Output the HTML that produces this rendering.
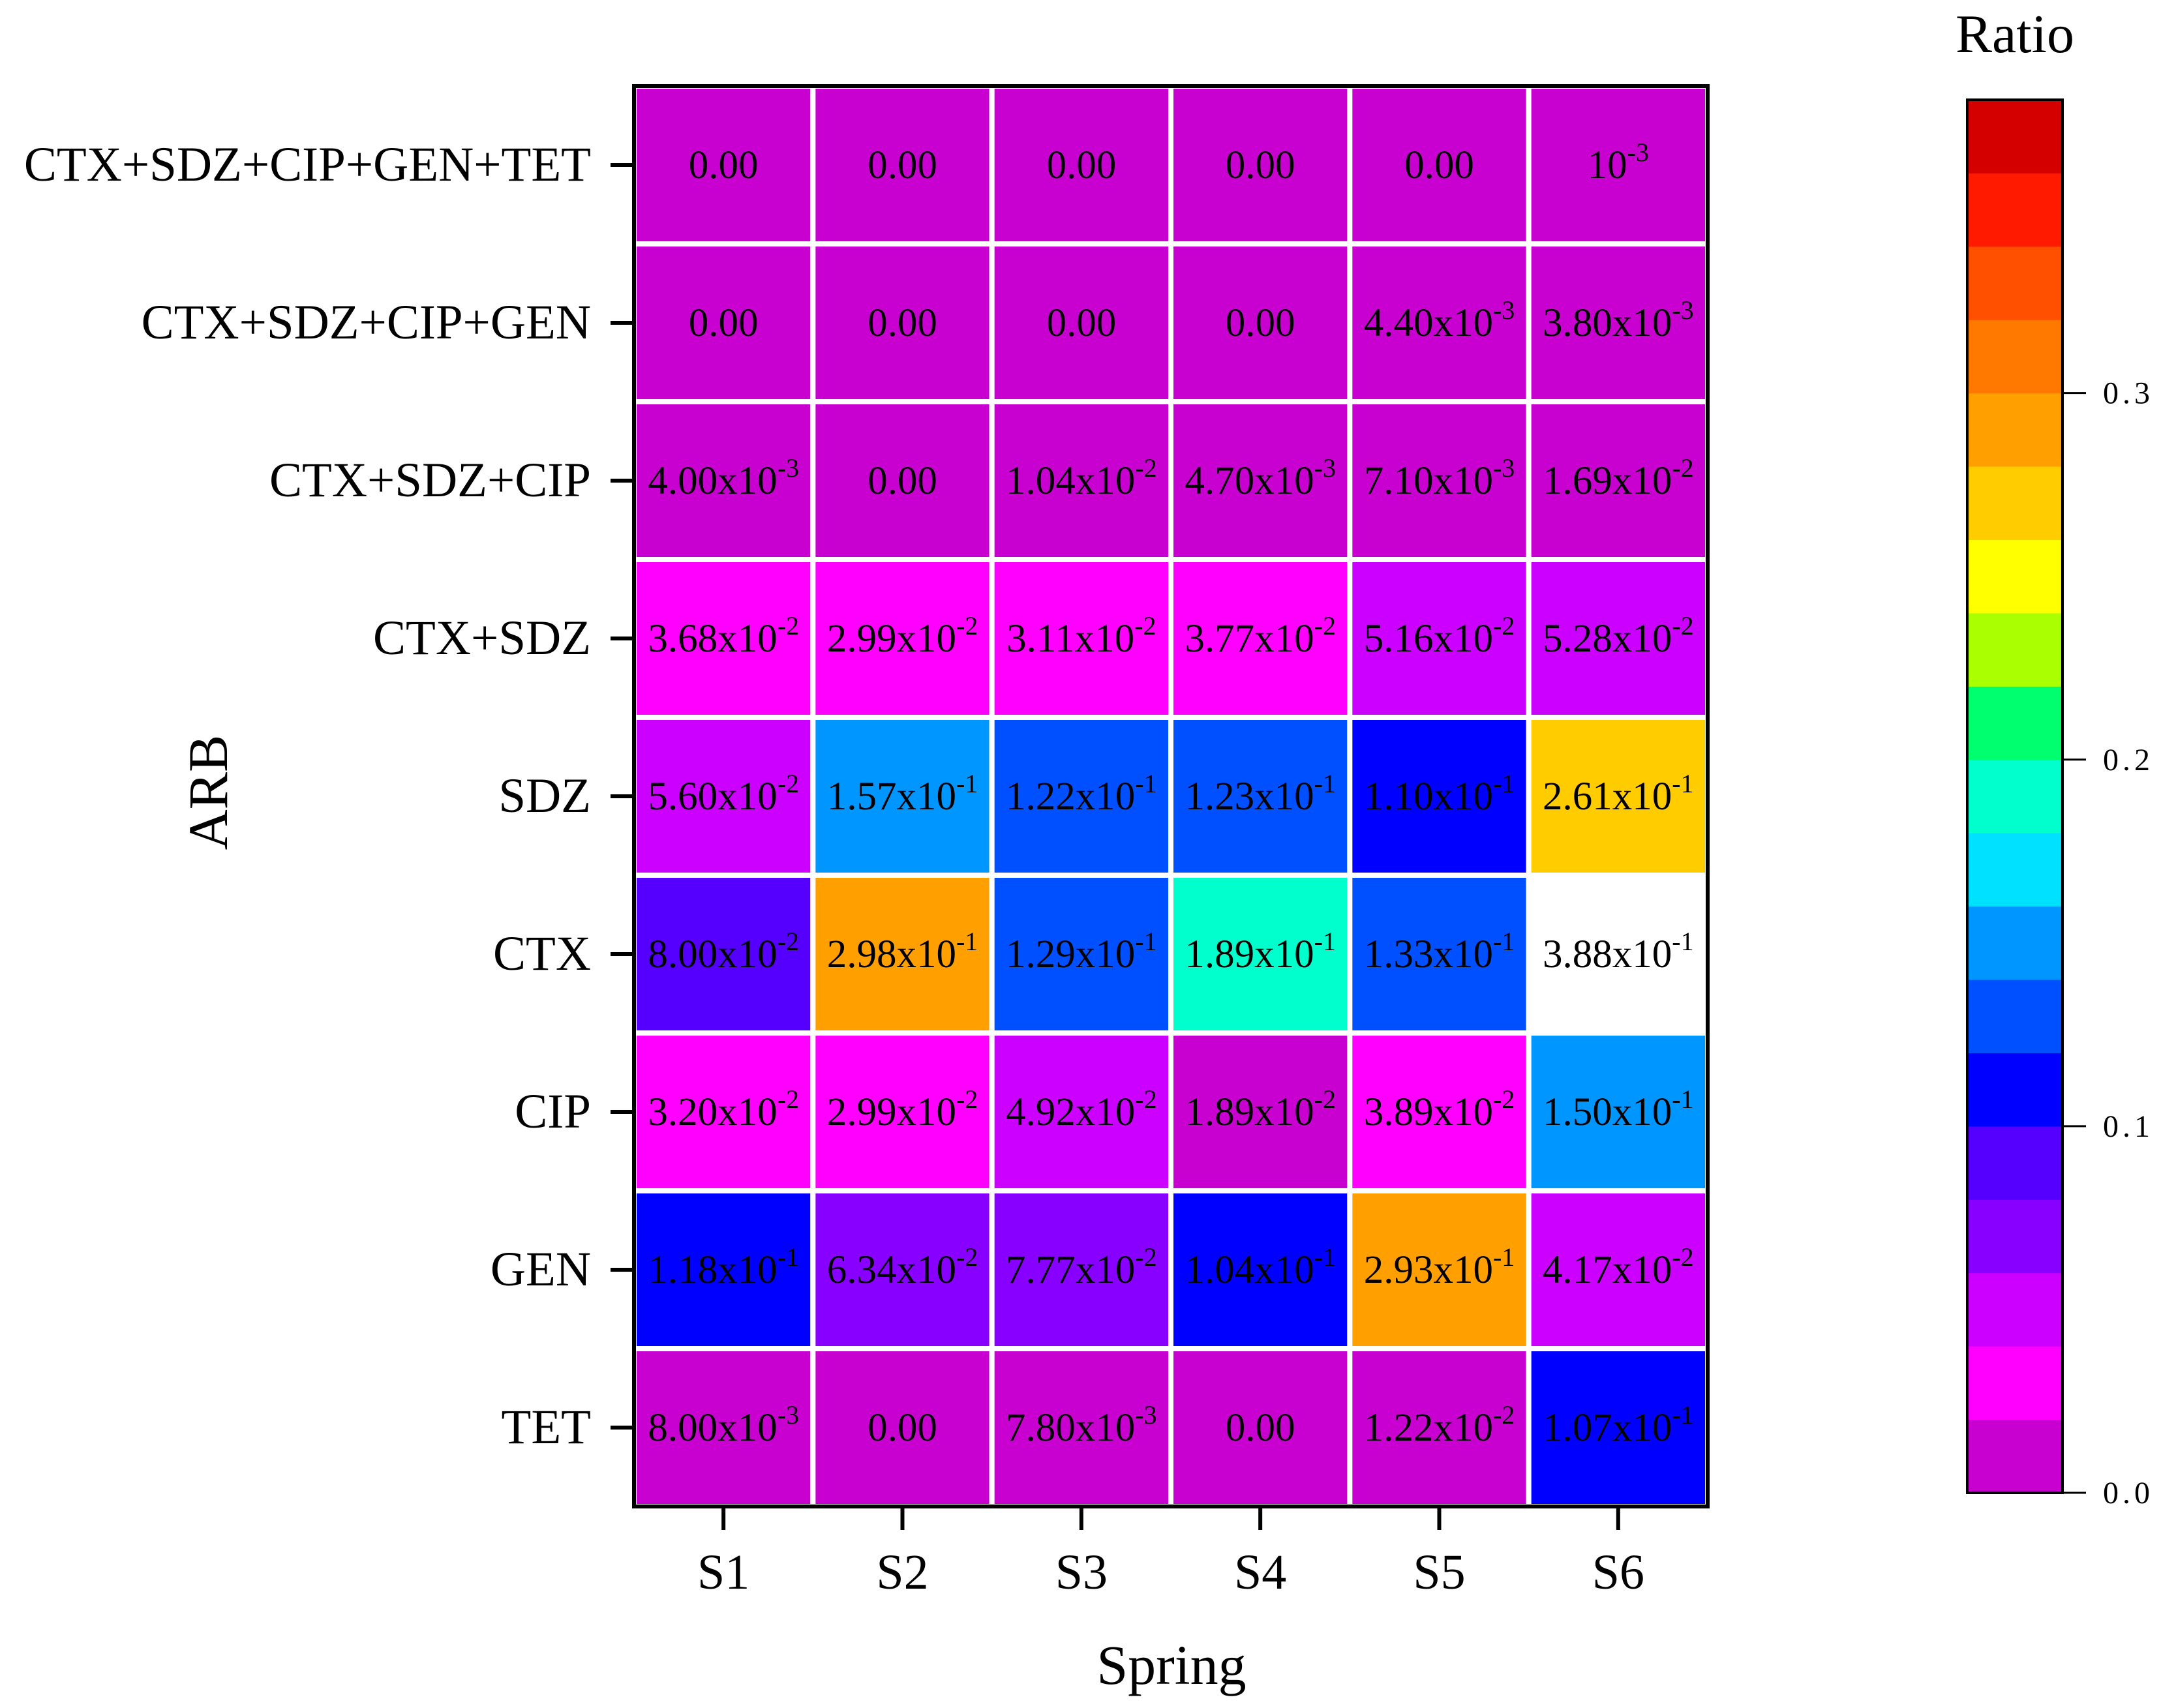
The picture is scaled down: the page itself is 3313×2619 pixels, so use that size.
<!DOCTYPE html>
<html><head><meta charset="utf-8"><style>
html,body{margin:0;padding:0;background:#fff;}
svg{display:block;font-family:"Liberation Serif","DejaVu Serif",serif;}
</style></head><body>
<svg id="chart" width="3313" height="2619" viewBox="0 0 3313 2619" xmlns="http://www.w3.org/2000/svg"></svg>
<script>
const categoriesX = ["S1","S2","S3","S4","S5","S6"];
const categoriesY = ["CTX+SDZ+CIP+GEN+TET","CTX+SDZ+CIP+GEN","CTX+SDZ+CIP","CTX+SDZ","SDZ","CTX","CIP","GEN","TET"];
const rowCombo5 = [0,0,0,0,0,0.001];
const rowCombo4 = [0,0,0,0,0.0044,0.0038];
const rowCombo3 = [0.004,0,0.0104,0.0047,0.0071,0.0169];
const rowCombo2 = [0.0368,0.0299,0.0311,0.0377,0.0516,0.0528];
const rowSDZ = [0.056,0.157,0.122,0.123,0.110,0.261];
const rowCTX = [0.080,0.298,0.129,0.189,0.133,0.388];
const rowCIP = [0.032,0.0299,0.0492,0.0189,0.0389,0.150];
const rowGEN = [0.118,0.0634,0.0777,0.104,0.293,0.0417];
const rowTET = [0.008,0,0.0078,0,0.0122,0.107];
const colorbarTicks = [0.0,0.1,0.2,0.3];
const bandColors = ["#c800d0","#ff00ff","#cc00ff","#8800ff","#5500ff","#0000ff","#0050ff","#0096ff","#00e0ff","#00ffcc","#00ff6e","#aaff00","#ffff00","#ffcc00","#ffa000","#ff7800","#ff5000","#ff1a00","#d40000"];
const bandStep = 0.02;
const cbMax = 0.38;

const rows = [rowCombo5,rowCombo4,rowCombo3,rowCombo2,rowSDZ,rowCTX,rowCIP,rowGEN,rowTET];
const svg = document.getElementById('chart');
const NS = "http://www.w3.org/2000/svg";
function mk(tag, attrs){const e=document.createElementNS(NS,tag);for(const k in attrs)e.setAttribute(k,attrs[k]);svg.appendChild(e);return e;}

const PL=972, PR=2618, PT=132, PB=2310;
const cw=(PR-PL)/categoriesX.length, ch=(PB-PT)/categoriesY.length;
const xPos = i => PL + i*cw;
const yPos = j => PT + j*ch;
function colorFor(v){ if(v>=cbMax) return "#ffffff"; const b=Math.floor(v/bandStep+1e-9); return bandColors[Math.min(b,bandColors.length-1)]; }
function fmt(v){
  if(v===0) return {m:"0.00",e:null};
  const e=Math.floor(Math.log10(v)+1e-9); let m=v/Math.pow(10,e);
  if(v===0.001) return {m:"",e:e};
  return {m:m.toFixed(2)+"x",e:e};
}

rows.forEach((row,j)=>{
  row.forEach((v,i)=>{
    const r=mk('rect',{x:xPos(i),y:yPos(j),width:cw,height:ch,fill:colorFor(v),stroke:'#fff','stroke-width':8});
    
    
    const f=fmt(v);
    const t=mk('text',{x:xPos(i)+cw/2,y:yPos(j)+ch/2+20,'text-anchor':'middle','font-size':61,fill:'#000','textLength':f.e===null?null:null});
    t.removeAttribute('textLength');
    
    
    if(f.e===null){ t.textContent=f.m; }
    else{
      const s1=document.createElementNS(NS,'tspan'); s1.textContent=f.m+"10"; t.appendChild(s1);
      const s2=document.createElementNS(NS,'tspan'); s2.setAttribute('font-size','40'); s2.setAttribute('dy','-26'); s2.textContent=String(f.e); t.appendChild(s2);
    }
  });
});
const fr=mk('rect',{x:PL,y:PT,width:PR-PL,height:PB-PT,fill:'none',stroke:'#000','stroke-width':6});



categoriesY.forEach((c,j)=>{
  const yc=yPos(j)+ch/2;
  const tk=mk('line',{x1:PL-36,x2:PL,y1:yc,y2:yc,stroke:'#000','stroke-width':6});
  
  
  const t=mk('text',{x:PL-66,y:yc+24,'text-anchor':'end','font-size':75});
  
  
  t.textContent=c;
});
categoriesX.forEach((c,i)=>{
  const xc=xPos(i)+cw/2;
  const tk=mk('line',{x1:xc,x2:xc,y1:PB,y2:PB+36,stroke:'#000','stroke-width':6});
  
  
  const t=mk('text',{x:xc,y:2436,'text-anchor':'middle','font-size':76});
  
  
  t.textContent=c;
});
const xt=mk('text',{x:1796,y:2582,'text-anchor':'middle','font-size':86});


xt.textContent="Spring";
const yt=mk('text',{x:0,y:0,'text-anchor':'middle','font-size':86,transform:'translate(348,1215) rotate(-90)'});


yt.textContent="ARB";

const CL=3016, CR=3162, CT=153, CB=2289;
const cy = v => CB - (v/cbMax)*(CB-CT);
bandColors.forEach((col,k)=>{
  const r=mk('rect',{x:CL,y:cy((k+1)*bandStep),width:CR-CL,height:cy(k*bandStep)-cy((k+1)*bandStep)+0.5,fill:col});
  
  
});
const cbf=mk('rect',{x:CL,y:CT,width:CR-CL,height:CB-CT,fill:'none',stroke:'#000','stroke-width':4});


colorbarTicks.forEach(v=>{
  const tk=mk('line',{x1:CR,x2:CR+36,y1:cy(v),y2:cy(v),stroke:'#000','stroke-width':3});
  
  
  const t=mk('text',{x:3224,y:cy(v)+16,'font-size':48,'letter-spacing':6});
  
  
  t.textContent=v.toFixed(1);
});
const ct=mk('text',{x:3089,y:80,'text-anchor':'middle','font-size':84});


ct.textContent="Ratio";
</script>
</body></html>
